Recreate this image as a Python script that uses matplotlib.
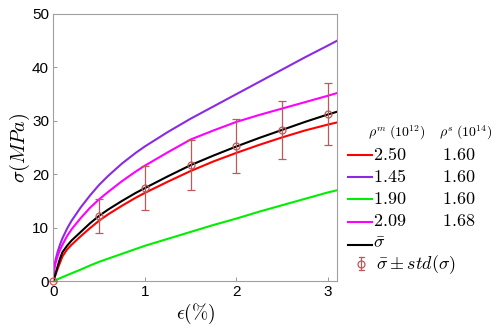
import matplotlib
matplotlib.use('Agg')
import matplotlib.pyplot as plt
from matplotlib.lines import Line2D
import numpy as np

plt.rcParams['mathtext.fontset'] = 'cm'
plt.rcParams['font.family'] = ['Liberation Sans', 'DejaVu Sans']

# strain (%) sample points of the curves
eps = [0, 0.01, 0.025, 0.05, 0.075, 0.1, 0.15, 0.2, 0.3, 0.4, 0.5, 0.6, 0.75, 0.9,
       1.0, 1.25, 1.5, 1.75, 2.0, 2.25, 2.5, 2.75, 3.0, 3.1]
sig_red = [0, 0.5, 1.2, 2.4, 3.5, 4.6, 5.9, 6.8, 8.4, 9.9, 11.3, 12.5, 14.1, 15.6,
           16.5, 18.6, 20.6, 22.4, 24.0, 25.5, 26.9, 28.2, 29.3, 29.7]
sig_purple = [0, 2.5, 4.0, 5.6, 6.9, 8.0, 9.8, 11.3, 13.8, 16.0, 18.0, 19.7, 22.0, 24.0,
              25.2, 27.9, 30.4, 32.7, 35.0, 37.3, 39.6, 41.9, 44.1, 45.0]
sig_green = [0, 0.07, 0.18, 0.36, 0.55, 0.73, 1.1, 1.45, 2.15, 2.9, 3.6, 4.2, 5.1, 6.0,
             6.6, 7.9, 9.2, 10.5, 11.7, 13.0, 14.2, 15.4, 16.6, 17.0]
sig_magenta = [0, 2.2, 3.4, 4.8, 5.9, 6.8, 8.4, 9.7, 11.8, 13.7, 15.3, 16.7, 18.7, 20.5,
               21.6, 24.1, 26.5, 28.2, 29.8, 31.1, 32.3, 33.5, 34.7, 35.2]
sig_mean = [0, 0.55, 1.4, 2.9, 4.3, 5.4, 6.6, 7.6, 9.2, 10.8, 12.2, 13.4, 15.0, 16.5,
            17.4, 19.6, 21.7, 23.5, 25.2, 26.8, 28.3, 29.8, 31.2, 31.7]

# mean +- std points
eps_pts = [0, 0.5, 1.0, 1.5, 2.0, 2.5, 3.0]
mean_pts = [0, 12.2, 17.4, 21.7, 25.2, 28.3, 31.2]
std_pts = [0, 3.2, 4.05, 4.65, 5.05, 5.4, 5.8]

rho_m = ['2.50', '1.45', '1.90', '2.09']
rho_s = ['1.60', '1.60', '1.60', '1.68']
colors = ['#ff0000', '#8a2be2', '#00ee00', '#ff00ff']
err_col = '#c0585a'

fig = plt.figure(figsize=(4.98, 3.33), dpi=100)
ax = fig.add_axes([0.107, 0.156, 0.570, 0.802])

for s, c in zip([sig_red, sig_purple, sig_green, sig_magenta], colors):
    ax.plot(eps, s, color=c, lw=1.5)
ax.plot(eps, sig_mean, color='black', lw=1.5)
ax.errorbar(eps_pts, mean_pts, yerr=std_pts, fmt='o', mfc='none', mec=err_col,
            ecolor=err_col, elinewidth=0.9, capsize=3, capthick=0.9, ms=5, mew=0.9,
            clip_on=False, zorder=5)

ax.set_xlim(0, 3.1)
ax.set_ylim(0, 50)
ax.set_xticks([0, 1, 2, 3])
ax.set_yticks([0, 10, 20, 30, 40, 50])
ax.tick_params(direction='in', length=3, width=0.6, color='#888888', labelsize=11, pad=3)
for sp in ax.spines.values():
    sp.set_color('#a0a0a0')
    sp.set_linewidth(0.8)
ax.set_xlabel(r'$\epsilon(\%)$', fontsize=14, labelpad=2)
ax.set_ylabel(r'$\sigma(MPa)$', fontsize=14.5, labelpad=0)

# legend table
W, H = 498.0, 333.0
def fx(px):
    return px / W
def fy(py):
    return 1 - py / H

fig.text(fx(368), fy(133), r'$\rho^m\;(10^{12})$', fontsize=10, va='center', ha='left')
fig.text(fx(439), fy(133), r'$\rho^s\;(10^{14})$', fontsize=10, va='center', ha='left')
rows_y = [155, 177, 199, 222]
for y, a, b, c in zip(rows_y, rho_m, rho_s, colors):
    fig.add_artist(Line2D([fx(348), fx(372)], [fy(y), fy(y)], color=c, lw=1.5))
    fig.text(fx(373), fy(y), '$' + a + '$', fontsize=13, va='center', ha='left')
    fig.text(fx(442), fy(y), '$' + b + '$', fontsize=13, va='center', ha='left')
fig.add_artist(Line2D([fx(348), fx(372)], [fy(245), fy(245)], color='black', lw=1.5))
fig.text(fx(373), fy(244), r'$\bar{\sigma}$', fontsize=13, va='center', ha='left')
fig.add_artist(Line2D([fx(361), fx(361)], [fy(257), fy(270)], color=err_col, lw=0.9))
fig.add_artist(Line2D([fx(358.5), fx(363.5)], [fy(257), fy(257)], color=err_col, lw=0.9))
fig.add_artist(Line2D([fx(358.5), fx(363.5)], [fy(270), fy(270)], color=err_col, lw=0.9))
fig.add_artist(Line2D([fx(361)], [fy(263.5)], marker='o', mfc='none', mec=err_col, ms=5, mew=0.9))
fig.text(fx(376), fy(265), r'$\bar{\sigma} \pm std(\sigma)$', fontsize=13, va='center', ha='left')

fig.savefig('out.png', dpi=100)
